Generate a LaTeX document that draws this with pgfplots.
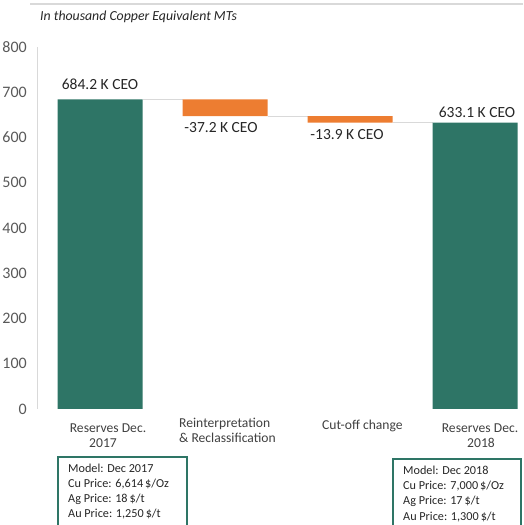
\documentclass[border=0pt]{standalone}
\usepackage{pgfplots}
\pgfplotsset{compat=1.18}
\usepackage{fontspec}
\setmainfont{Carlito}
\definecolor{barGreen}{HTML}{2E7566}
\definecolor{barOrange}{HTML}{ED7D31}
\definecolor{lineGray}{HTML}{D9D9D9}
\definecolor{tickGray}{HTML}{595959}
\definecolor{txtDark}{HTML}{262626}
\definecolor{catGray}{HTML}{404040}
\newcommand{\tickf}{\fontsize{16}{18}\selectfont}
\newcommand{\valf}{\fontsize{15.5}{18}\selectfont}
\newcommand{\catf}{\fontsize{13.6}{15}\selectfont}
\newcommand{\boxf}{\fontsize{12.2}{15}\selectfont}
\newcommand{\titf}{\fontsize{13.8}{15}\selectfont\itshape}
\begin{document}
\begin{tikzpicture}
\path[use as bounding box] (0,0) rectangle (523pt,525pt);
% top rule and title
\draw[lineGray, line width=1.5pt] (30pt,521pt) -- (523pt,521pt);
\node[anchor=base west, inner sep=0pt, font=\titf, text=txtDark] at (40pt,504pt) {In thousand Copper Equivalent MTs};
\begin{axis}[
  at={(37pt,116pt)}, anchor=south west,
  scale only axis, width=486pt, height=362pt,
  xmin=-0.504, xmax=3.384, ymin=0, ymax=800,
  ybar stacked, bar width=85pt,
  ytick={0,100,...,800}, xtick=\empty,
  axis x line=none,
  axis y line*=left,
  y axis line style={draw=lineGray, line width=1pt, -},
  ytick style={draw=none},
  /pgf/number format/assume math mode=true,
  yticklabel style={font=\tickf, text=tickGray, anchor=east, inner sep=0pt, xshift=-10pt},
  clip=false,
]
\addplot[draw=none, fill=none, forget plot] coordinates {(0,0) (1,647.0) (2,633.1) (3,0)};
\addplot[draw=none, fill=barGreen] coordinates {(0,684.2) (1,0) (2,0) (3,633.1)};
\addplot[draw=none, fill=barOrange] coordinates {(0,0) (1,37.2) (2,13.9) (3,0)};
\draw[lineGray, line width=1.2pt] (axis cs:0.34,684.2) -- (axis cs:0.66,684.2);
\draw[lineGray, line width=1.2pt] (axis cs:1.34,647.0) -- (axis cs:1.66,647.0);
\draw[lineGray, line width=1.2pt] (axis cs:2.34,633.1) -- (axis cs:2.66,633.1);
\node[anchor=base, inner sep=0pt, font=\valf, text=txtDark, yshift=10pt] at (axis cs:0,684.2) {684.2 K CEO};
\node[anchor=base, inner sep=0pt, font=\valf, text=txtDark, yshift=-16pt, xshift=-4pt] at (axis cs:1,647.0) {-37.2 K CEO};
\node[anchor=base, inner sep=0pt, font=\valf, text=txtDark, yshift=-16.5pt, xshift=-3pt] at (axis cs:2,633.1) {-13.9 K CEO};
\node[anchor=base, inner sep=0pt, font=\valf, text=txtDark, yshift=5.5pt, xshift=2pt] at (axis cs:3,633.1) {633.1 K CEO};
\end{axis}
% category labels
\node[anchor=base, inner sep=0pt, font=\catf, text=catGray] at (108pt,92pt) {Reserves Dec.};
\node[anchor=base, inner sep=0pt, font=\catf, text=catGray] at (103pt,77pt) {2017};
\node[anchor=base west, inner sep=0pt, font=\catf, text=catGray] at (179pt,97pt) {Reinterpretation};
\node[anchor=base west, inner sep=0pt, font=\catf, text=catGray] at (179pt,82pt) {\& Reclassification};
\node[anchor=base west, inner sep=0pt, font=\catf, text=catGray] at (322pt,95pt) {Cut-off change};
\node[anchor=base, inner sep=0pt, font=\catf, text=catGray] at (480pt,92pt) {Reserves Dec.};
\node[anchor=base, inner sep=0pt, font=\catf, text=catGray] at (481pt,77pt) {2018};
% info boxes
\draw[barGreen, line width=1.5pt] (58pt,-10pt) -- (58pt,68pt) -- (187pt,68pt) -- (187pt,-10pt);
\draw[barGreen, line width=1.5pt] (393pt,-10pt) -- (393pt,66pt) -- (521pt,66pt) -- (521pt,-10pt);
\foreach \t [count=\i from 0] in {Model: Dec 2017, Cu Price: 6{,}614\,\$/Oz, Ag Price: 18\,\$/t, Au Price: 1{,}250\,\$/t}{
  \node[anchor=base west, inner sep=0pt, font=\boxf, text=txtDark] at (68pt,{(52-15*\i)*1pt}) {\t};
}
\foreach \t [count=\i from 0] in {Model: Dec 2018, Cu Price: 7{,}000\,\$/Oz, Ag Price: 17\,\$/t, Au Price: 1{,}300\,\$/t}{
  \node[anchor=base west, inner sep=0pt, font=\boxf, text=txtDark] at (403pt,{(50-15*\i)*1pt}) {\t};
}
\end{tikzpicture}
\end{document}
